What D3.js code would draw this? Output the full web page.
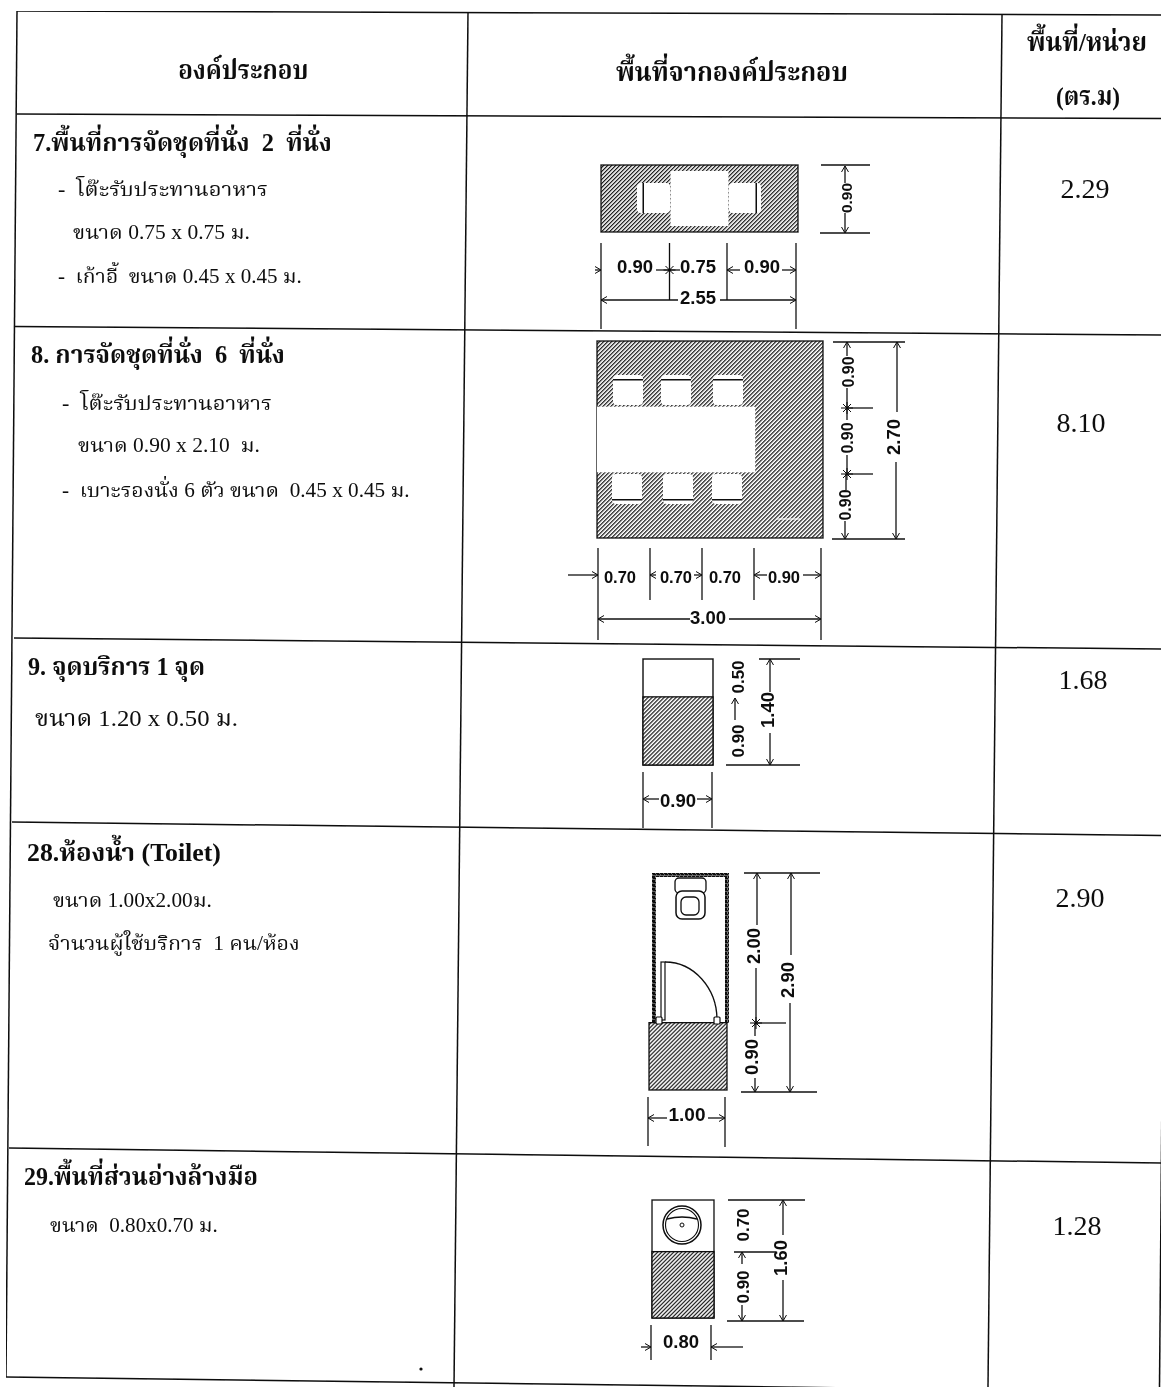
<!DOCTYPE html>
<html><head><meta charset="utf-8">
<script src="https://cdn.jsdelivr.net/npm/d3@7/dist/d3.min.js"></script>
<style>html,body{margin:0;padding:0;background:#fff;overflow:hidden}svg{display:block}</style>
</head><body>
<svg id="c" width="1161" height="1387"></svg>
<script>
// ---------- table content ----------
const headers = ["องค์ประกอบ", "พื้นที่จากองค์ประกอบ", "พื้นที่/หน่วย", "(ตร.ม)"];
const rowTitles = ["7.พื้นที่การจัดชุดที่นั่ง  2  ที่นั่ง", "8. การจัดชุดที่นั่ง  6  ที่นั่ง", "9. จุดบริการ 1 จุด", "28.ห้องน้ำ (Toilet)", "29.พื้นที่ส่วนอ่างล้างมือ"];
const rowDetails = [
  ["-  โต๊ะรับประทานอาหาร", "ขนาด 0.75 x 0.75 ม.", "-  เก้าอี้  ขนาด 0.45 x 0.45 ม."],
  ["-  โต๊ะรับประทานอาหาร", "ขนาด 0.90 x 2.10  ม.", "-  เบาะรองนั่ง 6 ตัว ขนาด  0.45 x 0.45 ม."],
  ["ขนาด 1.20 x 0.50 ม."],
  ["ขนาด 1.00x2.00ม.", "จำนวนผู้ใช้บริการ  1 คน/ห้อง"],
  ["ขนาด  0.80x0.70 ม."]
];
const unitAreas = [2.29, 8.10, 1.68, 2.90, 1.28];

// plan sizes, metres [width, depth]
const planSizes = [[2.55, 0.90], [3.00, 2.70], [0.90, 1.40], [1.00, 2.90], [0.80, 1.60]];

// ---------- layout ----------
const W = 1161, H = 1387;
const ink = "#0c0c0c";
const serif = '"Liberation Serif","Noto Serif Thai","Noto Sans Thai","Noto Sans","DejaVu Serif",serif';
const sans = '"Liberation Sans",Arial,sans-serif';
const svg = d3.select("#c");

const defs = svg.append("defs");
const hatch = defs.append("pattern").attr("id", "hatch").attr("patternUnits", "userSpaceOnUse")
  .attr("width", 2.83).attr("height", 2.83).attr("patternTransform", "rotate(-45)");
hatch.append("rect").attr("width", 2.83).attr("height", 2.83).attr("fill", "#fff");
hatch.append("rect").attr("width", 2.83).attr("height", 1.15).attr("fill", ink);
const noise = defs.append("pattern").attr("id", "wall").attr("patternUnits", "userSpaceOnUse")
  .attr("width", 4).attr("height", 4);
noise.append("rect").attr("width", 4).attr("height", 4).attr("fill", "#777");
noise.append("rect").attr("width", 3).attr("height", 2.2).attr("fill", ink);
noise.append("rect").attr("x", 1).attr("y", 2).attr("width", 3).attr("height", 1.2).attr("fill", ink);
defs.append("filter").attr("id", "scan").attr("x", 0).attr("y", 0).attr("width", 1).attr("height", 1)
  .append("feGaussianBlur").attr("stdDeviation", 0.32);

const root = svg.append("g").attr("filter", "url(#scan)");
const gGrid = root.append("g"), gPlan = root.append("g"), gText = root.append("g");

// table rules (the scan is slightly rotated)
const frameRows = [[17, 11, 1161, 15], [17, 114, 1161, 118.5], [15, 326.5, 1161, 335], [14, 638, 1161, 649], [12, 822, 1161, 835.5], [9, 1148, 1161, 1163], [6, 1377, 1161, 1392]];
const frameCols = [[17, 11, 6, 1377], [468, 12, 454, 1387], [1002, 15, 988, 1387], [1171, 15, 1159.5, 1387]];
gGrid.selectAll("line").data(frameRows.concat(frameCols)).join("line")
  .attr("x1", d => d[0]).attr("y1", d => d[1]).attr("x2", d => d[2]).attr("y2", d => d[3])
  .attr("stroke", ink).attr("stroke-width", 1.5);

// text fitted to a left and right extent
function fit(str, x0, x1, y, size, bold, family) {
  const t = gText.append("text").text(str).attr("xml:space", "preserve").style("white-space", "pre")
    .attr("font-family", family || serif).attr("font-size", size)
    .attr("font-weight", bold ? 700 : 400).attr("fill", ink);
  const k = (x1 - x0) / t.node().getComputedTextLength();
  t.attr("transform", `translate(${x0},${y}) scale(${k},1)`);
}
const headerBoxes = [[535 / 3, 925 / 3, 79], [616, 848, 81], [1027, 1147, 51], [1056, 1120, 105]];
headers.forEach((h, i) => fit(h, headerBoxes[i][0], headerBoxes[i][1], headerBoxes[i][2], 26, true));
const titleBoxes = [[33, 332, 151], [31, 285, 363], [28, 205, 675], [27, 221, 861], [24, 258, 1185]];
rowTitles.forEach((h, i) => fit(h, titleBoxes[i][0], titleBoxes[i][1], titleBoxes[i][2], 25, true));
const detailBoxes = [
  [[58, 268, 196], [73, 250, 239], [58, 302, 283]],
  [[62, 272, 410], [78, 260, 452], [62, 410, 497]],
  [[35, 238, 726]],
  [[53, 212, 907], [48, 300, 950]],
  [[50, 218, 1232]]
];
const detailSizes = [20, 20, 23, 20, 20];
rowDetails.forEach((ls, i) => ls.forEach((s, j) => {
  const b = detailBoxes[i][j];
  fit(s, b[0], b[1], b[2], detailSizes[i], false);
}));
const areaSpots = [[1085, 198], [1081, 432], [1083, 689], [1080, 907], [1077, 1235]];
gText.selectAll("text.area").data(unitAreas).join("text").attr("class", "area")
  .attr("x", (d, i) => areaSpots[i][0]).attr("y", (d, i) => areaSpots[i][1])
  .attr("text-anchor", "middle").attr("font-family", serif).attr("font-size", 28).attr("fill", ink)
  .text(d => d3.format(".2f")(d));
gText.append("circle").attr("cx", 421).attr("cy", 1369).attr("r", 1.6).attr("fill", ink);

// ---------- drawing helpers ----------
function L(x1, y1, x2, y2, w, c) {
  gPlan.append("line").attr("x1", x1).attr("y1", y1).attr("x2", x2).attr("y2", y2)
    .attr("stroke", c || ink).attr("stroke-width", w || 1.3);
}
function A(x, y, dir) { // open arrow head, tip at x,y
  const s = 6, o = 3.5;
  const p = { r: [[-s, -o], [-s, o]], l: [[s, -o], [s, o]], u: [[-o, s], [o, s]], d: [[-o, -s], [o, -s]] }[dir];
  L(x + p[0][0], y + p[0][1], x, y, 1); L(x + p[1][0], y + p[1][1], x, y, 1);
}
function S(x, y) { // tick star
  L(x - 6, y, x + 6, y, 1); L(x, y - 6, x, y + 6, 1); L(x - 4, y - 4, x + 4, y + 4, 1); L(x - 4, y + 4, x + 4, y - 4, 1);
  gPlan.append("circle").attr("cx", x).attr("cy", y).attr("r", 1.6).attr("fill", ink);
}
function T(str, x, y, size) {
  gText.append("text").text(str).attr("x", x).attr("y", y).attr("text-anchor", "middle")
    .attr("font-family", sans).attr("font-weight", 700).attr("font-size", size).attr("fill", ink);
}
function V(str, x, y, size) { // rotated, centre x,y
  gText.append("text").text(str).attr("text-anchor", "middle").attr("dominant-baseline", "central")
    .attr("transform", `translate(${x},${y}) rotate(-90)`)
    .attr("font-family", sans).attr("font-weight", 700).attr("font-size", size).attr("fill", ink);
}
function R(x, y, w, h, fill, sw, rx) {
  gPlan.append("rect").attr("x", x).attr("y", y).attr("width", w).attr("height", h).attr("rx", rx || 0)
    .attr("fill", fill).attr("stroke", sw ? ink : "none").attr("stroke-width", sw || 0);
}
function planScales(i, x0, x1, y0, y1) {
  return [d3.scaleLinear().domain([0, planSizes[i][0]]).range([x0, x1]),
          d3.scaleLinear().domain([0, planSizes[i][1]]).range([y0, y1])];
}
const hatchFill = "url(#hatch)";

// ---------- 7: two seat set ----------
{
  const [x, y] = planScales(0, 601, 798, 165, 232);
  R(x(0), y(0), x(2.55) - x(0), y(.9) - y(0), hatchFill, 1.3);
  R(637, 183, 33, 30, "#fff", 0, 4); R(729, 183, 32, 30, "#fff", 0, 4);
  R(x(.9), y(.08), x(.75) - x(0), y(.74) - y(0), "#fff");
  R(642.5, 183, 1.5, 30, ink); R(755.5, 183, 1.5, 30, ink);
  [601, 796].forEach(v => L(v, 243, v, 329)); [669.5, 727].forEach(v => L(v, 243, v, 300));
  L(595, 270, 601, 270); A(601, 270, "r");
  T("0.90", 635, 273, 18.5); L(656, 270, 669.5, 270); S(669.5, 270); L(669.5, 270, 680, 270);
  T("0.75", 698, 273, 18.5); A(727, 270, "l"); L(727, 270, 740, 270);
  T("0.90", 762, 273, 18.5); L(782, 270, 796, 270); A(796, 270, "r");
  L(601, 300, 678, 300); A(601, 300, "l"); T("2.55", 698, 304, 18.5); L(720, 300, 796, 300); A(796, 300, "r");
  L(821, 165, 870, 165); L(820, 233, 870, 233);
  L(845, 166, 845, 183); A(845, 166, "u"); V("0.90", 846, 198, 15.5); L(845, 213, 845, 233); A(845, 233, "d");
}
// ---------- 8: six seat set ----------
{
  const [x, y] = planScales(1, 597, 823, 341, 538);
  R(x(0), y(0), x(3) - x(0), y(2.7) - y(0), hatchFill, 1.3);
  R(x(0), y(.9), x(2.1) - x(0), y(.9) - y(0), "#fff");
  [613, 661, 713].forEach(v => { R(v, 375, 30, 30, "#fff", 0, 4); R(v, 379, 30, 1.5, ink); });
  [612, 663, 712].forEach(v => { R(v, 474, 30, 30, "#fff", 0, 4); R(v, 499, 30, 1.5, ink); });
  L(777, 519, 800, 519, 1.2, "#fff");
  [598, 821].forEach(v => L(v, 548, v, 640)); [650, 702, 754].forEach(v => L(v, 548, v, 600));
  L(568, 575, 598, 575); A(598, 575, "r");
  T("0.70", 620, 583, 16.5); A(650, 575, "l"); L(650, 575, 656, 575);
  T("0.70", 676, 583, 16.5); L(694, 575, 702, 575); A(702, 575, "r");
  T("0.70", 725, 583, 16.5); A(754, 575, "l"); L(754, 575, 767, 575);
  T("0.90", 784, 583, 16.5); L(803, 575, 821, 575); A(821, 575, "r");
  L(598, 619, 690, 619); A(598, 619, "l"); T("3.00", 708, 624, 18.5); L(729, 619, 821, 619); A(821, 619, "r");
  L(833, 342, 905, 342); L(832, 539, 905, 539);
  L(847, 342, 847, 356); A(847, 342, "u"); V("0.90", 848, 372, 16); L(847, 388, 847, 408);
  S(847, 408); L(847, 408, 873, 408); L(847, 408, 847, 420); V("0.90", 847, 438, 16); L(847, 455, 847, 474);
  S(847, 474); L(847, 474, 873, 474); L(846, 474, 846, 490); V("0.90", 845, 505, 16); L(845, 521, 845, 539); A(845, 539, "d");
  L(897, 342, 897, 412); A(897, 342, "u"); V("2.70", 893, 437, 18.5); L(896, 462, 896, 539); A(896, 539, "d");
}
// ---------- 9: service point ----------
{
  const [x, y] = planScales(2, 643, 713, 659, 765);
  R(x(0), y(0), x(.9) - x(0), y(1.4) - y(0), "#fff", 1.4);
  R(x(0), y(.5), x(.9) - x(0), y(.9) - y(0), hatchFill, 1.3);
  L(643, 772, 643, 828); L(712, 772, 712, 828);
  A(643, 799, "l"); L(643, 799, 659, 799); T("0.90", 678, 807, 18.5); L(697, 799, 712, 799); A(712, 799, "r");
  L(759, 659, 800, 659); L(726, 765, 800, 765);
  L(770, 659, 770, 692); A(770, 659, "u"); V("1.40", 767, 710, 18.5); L(770, 733, 770, 765); A(770, 765, "d");
  V("0.50", 738, 677, 17); L(735, 698, 735, 720); A(735, 698, "u"); V("0.90", 738, 741, 17);
}
// ---------- 28: toilet ----------
{
  const [x, y] = planScales(3, 649, 727, 873, 1090);
  R(652, 873, 77, 4, "url(#wall)"); R(652, 873, 4, 150, "url(#wall)"); R(725, 873, 4, 150, "url(#wall)");
  R(x(0), y(2), x(1) - x(0), y(.9) - y(0), hatchFill, 1.3);
  R(675, 878, 31, 15, "#fff", 1.3, 4); R(676, 891, 29, 28, "#fff", 1.5, 6); R(681, 897, 18, 18, "#fff", 1.3, 5);
  R(661, 962, 4, 58, "#fff", 1.2);
  gPlan.append("path").attr("d", d3.path ? "M665,962 A52,58 0 0 1 717,1020" : "").attr("fill", "none").attr("stroke", ink).attr("stroke-width", 1.3);
  R(656, 1017, 6, 7, "#fff", 1.2, 1); R(714, 1017, 6, 7, "#fff", 1.2, 1);
  L(648, 1097, 648, 1146); L(725, 1097, 725, 1147);
  A(648, 1118, "l"); L(648, 1118, 667, 1118); T("1.00", 687, 1121, 19); L(708, 1118, 725, 1118); A(725, 1118, "r");
  L(744, 873, 820, 873); L(741, 1092, 817, 1092);
  L(757, 873, 757, 925); A(757, 873, "u"); V("2.00", 753, 946, 18.5); L(756, 968, 756, 1023); S(756, 1023); L(756, 1023, 786, 1023);
  L(755, 1023, 755, 1036); V("0.90", 751, 1057, 18.5); L(755, 1078, 755, 1092); A(755, 1092, "d");
  L(791, 873, 791, 955); A(791, 873, "u"); V("2.90", 787, 980, 18.5); L(790, 1003, 790, 1092); A(790, 1092, "d");
}
// ---------- 29: hand wash ----------
{
  const [x, y] = planScales(4, 652, 714, 1200, 1318);
  R(x(0), y(0), x(.8) - x(0), y(1.6) - y(0), "#fff", 1.3);
  R(x(0), y(.7), x(.8) - x(0), y(.9) - y(0), hatchFill, 1.3);
  gPlan.append("circle").attr("cx", 682).attr("cy", 1225).attr("r", 19).attr("fill", "#fff").attr("stroke", ink).attr("stroke-width", 1.5);
  gPlan.append("circle").attr("cx", 682).attr("cy", 1225).attr("r", 16.5).attr("fill", "#fff").attr("stroke", ink).attr("stroke-width", 1.1);
  gPlan.append("path").attr("d", d3.path ? "M667,1219 Q682,1215 697,1219" : "").attr("fill", "none").attr("stroke", ink).attr("stroke-width", 1.3);
  gPlan.append("circle").attr("cx", 682).attr("cy", 1225).attr("r", 2).attr("fill", "#fff").attr("stroke", ink).attr("stroke-width", 1);
  L(651, 1325, 651, 1360); L(711, 1325, 711, 1360);
  L(641, 1347, 651, 1347); A(651, 1347, "r"); T("0.80", 681, 1348, 18.5); A(711, 1347, "l"); L(711, 1347, 743, 1347);
  L(728, 1200, 805, 1200); L(727, 1321, 804, 1321); L(734, 1252, 776, 1252);
  V("0.70", 743, 1225, 17); L(742, 1252, 742, 1264); A(742, 1252, "u"); V("0.90", 743, 1287, 17); L(742, 1305, 742, 1321); A(742, 1321, "d");
  L(783, 1200, 783, 1235); A(783, 1200, "u"); V("1.60", 780, 1258, 18.5); L(783, 1280, 783, 1321); A(783, 1321, "d");
}
</script>
</body></html>
